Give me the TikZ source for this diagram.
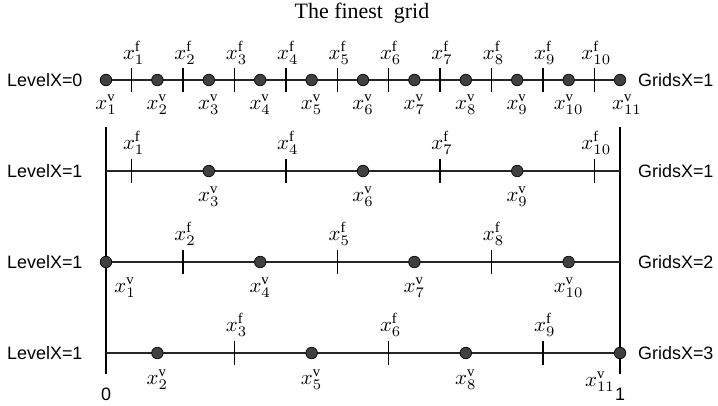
\documentclass[tikz,border=0pt]{standalone}
\usepackage{fontspec}
\setmainfont{Liberation Serif}
\setsansfont{Liberation Sans}
\begin{document}
\begin{tikzpicture}[x=1bp,y=-1bp,
  gridline/.style={line width=1.2bp, black!85},
  tickmark/.style={line width=1.3bp},
  frameline/.style={line width=1.4bp},
  vdot/.style={circle, fill=black!75, draw=black!95, line width=0.8bp, inner sep=0pt, minimum size=11.5bp},
  lbl/.style={font=\fontsize{18}{20}\selectfont\sffamily, inner sep=0pt},
  mlbl/.style={font=\normalsize, scale=2.1, transform shape, inner sep=0pt},
  titlelbl/.style={font=\fontsize{22}{24}\selectfont, inner sep=0pt}]
\useasboundingbox (0,0) rectangle (718,405);
\def\dx{51.4}
% title
\node[titlelbl] (title) at (362,13) {The finest\ \ grid};
% ---------- level 0 ----------
\coordinate (a0) at (106,80);
\coordinate (b0) at (620,80);
\draw[gridline] (a0) -- (b0);
\foreach \j in {1,...,10}{
  \pgfmathsetmacro{\fx}{106+(\j-0.5)*\dx}
  \draw[tickmark] (\fx,68) -- (\fx,92);
  \node[mlbl] (f0-\j) at (\fx+2,53) {$x^{\mathrm{f}}_{\j}$};
}
\foreach \i in {1,...,11}{
  \pgfmathsetmacro{\vx}{106+(\i-1)*\dx}
  \node[vdot] (v0-\i) at (\vx,80) {};
}
\foreach \i in {1,...,10}{
  \pgfmathsetmacro{\vx}{106+(\i-1)*\dx}
  \node[mlbl] (lv0-\i) at (\vx,105) {$x^{\mathrm{v}}_{\i}$};
}
\node[mlbl] (lv0-11) at (627,105) {$x^{\mathrm{v}}_{11}$};
\node[lbl, anchor=west] (lev0) at (7,80) {LevelX=0};
\node[lbl, anchor=west] (gr0) at (638,80) {GridsX=1};
% ---------- frame ----------
\coordinate (lt) at (106,127);
\coordinate (lb) at (106,374);
\coordinate (rt) at (620,127);
\coordinate (rb) at (620,374);
\draw[frameline] (lt) -- (lb);
\draw[frameline] (rt) -- (rb);
\node[lbl] (zero) at (106,394.5) {0};
\node[lbl] (one) at (620,394.5) {1};
% ---------- three level-1 rows ----------
% row 1: y=171, faces 1,4,7,10; vertices 3,6,9
\coordinate (a1) at (106,171);
\coordinate (b1) at (620,171);
\draw[gridline] (a1) -- (b1);
\foreach \j in {1,4,7,10}{
  \pgfmathsetmacro{\fx}{106+(\j-0.5)*\dx}
  \draw[tickmark] (\fx,159) -- (\fx,183);
  \node[mlbl] (f1-\j) at (\fx+2,143) {$x^{\mathrm{f}}_{\j}$};
}
\foreach \i in {3,6,9}{
  \pgfmathsetmacro{\vx}{106+(\i-1)*\dx}
  \node[vdot] (v1-\i) at (\vx,171) {};
  \node[mlbl] (lv1-\i) at (\vx,197) {$x^{\mathrm{v}}_{\i}$};
}
\node[lbl, anchor=west] (lev1) at (7,171) {LevelX=1};
\node[lbl, anchor=west] (gr1) at (638,171) {GridsX=1};
% row 2: y=262, faces 2,5,8; vertices 1,4,7,10
\coordinate (a2) at (106,262);
\coordinate (b2) at (620,262);
\draw[gridline] (a2) -- (b2);
\foreach \j in {2,5,8}{
  \pgfmathsetmacro{\fx}{106+(\j-0.5)*\dx}
  \draw[tickmark] (\fx,250) -- (\fx,274);
  \node[mlbl] (f2-\j) at (\fx+2,234) {$x^{\mathrm{f}}_{\j}$};
}
\foreach \i in {1,4,7,10}{
  \pgfmathsetmacro{\vx}{106+(\i-1)*\dx}
  \node[vdot] (v2-\i) at (\vx,262) {};
}
\node[mlbl] (lv2-1) at (125,288) {$x^{\mathrm{v}}_{1}$};
\foreach \i in {4,7,10}{
  \pgfmathsetmacro{\vx}{106+(\i-1)*\dx}
  \node[mlbl] (lv2-\i) at (\vx,288) {$x^{\mathrm{v}}_{\i}$};
}
\node[lbl, anchor=west] (lev2) at (7,262) {LevelX=1};
\node[lbl, anchor=west] (gr2) at (638,262) {GridsX=2};
% row 3: y=353, faces 3,6,9; vertices 2,5,8,11
\coordinate (a3) at (106,353);
\coordinate (b3) at (620,353);
\draw[gridline] (a3) -- (b3);
\foreach \j in {3,6,9}{
  \pgfmathsetmacro{\fx}{106+(\j-0.5)*\dx}
  \draw[tickmark] (\fx,341) -- (\fx,365);
  \node[mlbl] (f3-\j) at (\fx+2,325) {$x^{\mathrm{f}}_{\j}$};
}
\foreach \i in {2,5,8,11}{
  \pgfmathsetmacro{\vx}{106+(\i-1)*\dx}
  \node[vdot] (v3-\i) at (\vx,353) {};
}
\foreach \i in {2,5,8}{
  \pgfmathsetmacro{\vx}{106+(\i-1)*\dx}
  \node[mlbl] (lv3-\i) at (\vx,380) {$x^{\mathrm{v}}_{\i}$};
}
\node[mlbl] (lv3-11) at (600,382) {$x^{\mathrm{v}}_{11}$};
\node[lbl, anchor=west] (lev3) at (7,353) {LevelX=1};
\node[lbl, anchor=west] (gr3) at (638,353) {GridsX=3};
\end{tikzpicture}
\end{document}
